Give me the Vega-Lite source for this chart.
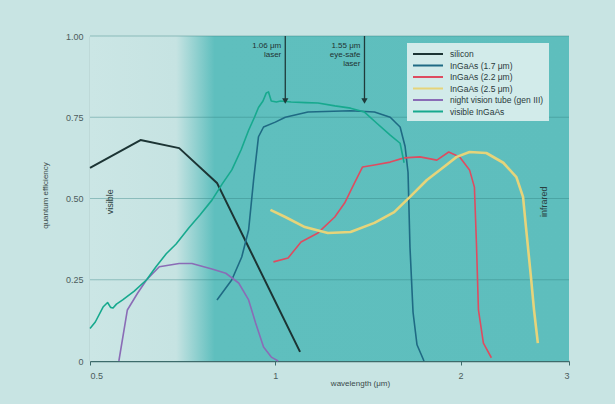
{
  "$schema": "https://vega.github.io/schema/vega-lite/v6.json",
  "width": 479,
  "height": 325,
  "autosize": {"type": "none"},
  "padding": {"left": 90, "top": 36, "right": 46, "bottom": 43},
  "background": "#c8e4e3",
  "config": {
    "view": {"stroke": null},
    "font": "Liberation Sans",
    "text": {"font": "Liberation Sans"}
  },
  "datasets": {
    "curves": [
      {"series": "silicon", "wl": 0.5, "qe": 0.594},
      {"series": "silicon", "wl": 0.604, "qe": 0.68},
      {"series": "silicon", "wl": 0.698, "qe": 0.655},
      {"series": "silicon", "wl": 0.804, "qe": 0.548},
      {"series": "silicon", "wl": 1.097, "qe": 0.028},

      {"series": "InGaAs (1.7 μm)", "wl": 0.804, "qe": 0.188},
      {"series": "InGaAs (1.7 μm)", "wl": 0.85, "qe": 0.25},
      {"series": "InGaAs (1.7 μm)", "wl": 0.882, "qe": 0.32},
      {"series": "InGaAs (1.7 μm)", "wl": 0.905, "qe": 0.403},
      {"series": "InGaAs (1.7 μm)", "wl": 0.922, "qe": 0.557},
      {"series": "InGaAs (1.7 μm)", "wl": 0.939, "qe": 0.69},
      {"series": "InGaAs (1.7 μm)", "wl": 0.957, "qe": 0.72},
      {"series": "InGaAs (1.7 μm)", "wl": 1.0, "qe": 0.735},
      {"series": "InGaAs (1.7 μm)", "wl": 1.038, "qe": 0.75},
      {"series": "InGaAs (1.7 μm)", "wl": 1.13, "qe": 0.766},
      {"series": "InGaAs (1.7 μm)", "wl": 1.325, "qe": 0.77},
      {"series": "InGaAs (1.7 μm)", "wl": 1.449, "qe": 0.766},
      {"series": "InGaAs (1.7 μm)", "wl": 1.537, "qe": 0.75},
      {"series": "InGaAs (1.7 μm)", "wl": 1.595, "qe": 0.72},
      {"series": "InGaAs (1.7 μm)", "wl": 1.625, "qe": 0.66},
      {"series": "InGaAs (1.7 μm)", "wl": 1.643, "qe": 0.58},
      {"series": "InGaAs (1.7 μm)", "wl": 1.655, "qe": 0.35},
      {"series": "InGaAs (1.7 μm)", "wl": 1.674, "qe": 0.15},
      {"series": "InGaAs (1.7 μm)", "wl": 1.699, "qe": 0.05},
      {"series": "InGaAs (1.7 μm)", "wl": 1.744, "qe": 0.0},

      {"series": "InGaAs (2.2 μm)", "wl": 0.993, "qe": 0.305},
      {"series": "InGaAs (2.2 μm)", "wl": 1.049, "qe": 0.317},
      {"series": "InGaAs (2.2 μm)", "wl": 1.101, "qe": 0.366},
      {"series": "InGaAs (2.2 μm)", "wl": 1.173, "qe": 0.394},
      {"series": "InGaAs (2.2 μm)", "wl": 1.249, "qe": 0.443},
      {"series": "InGaAs (2.2 μm)", "wl": 1.296, "qe": 0.486},
      {"series": "InGaAs (2.2 μm)", "wl": 1.345, "qe": 0.548},
      {"series": "InGaAs (2.2 μm)", "wl": 1.386, "qe": 0.597},
      {"series": "InGaAs (2.2 μm)", "wl": 1.449, "qe": 0.603},
      {"series": "InGaAs (2.2 μm)", "wl": 1.537, "qe": 0.612},
      {"series": "InGaAs (2.2 μm)", "wl": 1.619, "qe": 0.625},
      {"series": "InGaAs (2.2 μm)", "wl": 1.718, "qe": 0.628},
      {"series": "InGaAs (2.2 μm)", "wl": 1.83, "qe": 0.618},
      {"series": "InGaAs (2.2 μm)", "wl": 1.913, "qe": 0.643},
      {"series": "InGaAs (2.2 μm)", "wl": 1.993, "qe": 0.628},
      {"series": "InGaAs (2.2 μm)", "wl": 2.068, "qe": 0.588},
      {"series": "InGaAs (2.2 μm)", "wl": 2.106, "qe": 0.535},
      {"series": "InGaAs (2.2 μm)", "wl": 2.122, "qe": 0.363},
      {"series": "InGaAs (2.2 μm)", "wl": 2.138, "qe": 0.157},
      {"series": "InGaAs (2.2 μm)", "wl": 2.178, "qe": 0.055},
      {"series": "InGaAs (2.2 μm)", "wl": 2.244, "qe": 0.01},

      {"series": "InGaAs (2.5 μm)", "wl": 0.982, "qe": 0.465},
      {"series": "InGaAs (2.5 μm)", "wl": 1.038, "qe": 0.443},
      {"series": "InGaAs (2.5 μm)", "wl": 1.117, "qe": 0.412},
      {"series": "InGaAs (2.5 μm)", "wl": 1.217, "qe": 0.394},
      {"series": "InGaAs (2.5 μm)", "wl": 1.325, "qe": 0.397},
      {"series": "InGaAs (2.5 μm)", "wl": 1.449, "qe": 0.425},
      {"series": "InGaAs (2.5 μm)", "wl": 1.56, "qe": 0.458},
      {"series": "InGaAs (2.5 μm)", "wl": 1.655, "qe": 0.505},
      {"series": "InGaAs (2.5 μm)", "wl": 1.763, "qe": 0.557},
      {"series": "InGaAs (2.5 μm)", "wl": 1.878, "qe": 0.597},
      {"series": "InGaAs (2.5 μm)", "wl": 1.971, "qe": 0.628},
      {"series": "InGaAs (2.5 μm)", "wl": 2.068, "qe": 0.643},
      {"series": "InGaAs (2.5 μm)", "wl": 2.202, "qe": 0.64},
      {"series": "InGaAs (2.5 μm)", "wl": 2.346, "qe": 0.61},
      {"series": "InGaAs (2.5 μm)", "wl": 2.464, "qe": 0.566},
      {"series": "InGaAs (2.5 μm)", "wl": 2.526, "qe": 0.505},
      {"series": "InGaAs (2.5 μm)", "wl": 2.554, "qe": 0.412},
      {"series": "InGaAs (2.5 μm)", "wl": 2.602, "qe": 0.258},
      {"series": "InGaAs (2.5 μm)", "wl": 2.632, "qe": 0.157},
      {"series": "InGaAs (2.5 μm)", "wl": 2.67, "qe": 0.055},

      {"series": "night vision tube (gen III)", "wl": 0.557, "qe": 0.0},
      {"series": "night vision tube (gen III)", "wl": 0.575, "qe": 0.157},
      {"series": "night vision tube (gen III)", "wl": 0.598, "qe": 0.21},
      {"series": "night vision tube (gen III)", "wl": 0.618, "qe": 0.25},
      {"series": "night vision tube (gen III)", "wl": 0.648, "qe": 0.29},
      {"series": "night vision tube (gen III)", "wl": 0.698, "qe": 0.30},
      {"series": "night vision tube (gen III)", "wl": 0.732, "qe": 0.30},
      {"series": "night vision tube (gen III)", "wl": 0.789, "qe": 0.283},
      {"series": "night vision tube (gen III)", "wl": 0.831, "qe": 0.27},
      {"series": "night vision tube (gen III)", "wl": 0.872, "qe": 0.24},
      {"series": "night vision tube (gen III)", "wl": 0.905, "qe": 0.188},
      {"series": "night vision tube (gen III)", "wl": 0.929, "qe": 0.117},
      {"series": "night vision tube (gen III)", "wl": 0.957, "qe": 0.043},
      {"series": "night vision tube (gen III)", "wl": 0.985, "qe": 0.012},
      {"series": "night vision tube (gen III)", "wl": 1.011, "qe": 0.0},

      {"series": "visible InGaAs", "wl": 0.5, "qe": 0.10},
      {"series": "visible InGaAs", "wl": 0.51, "qe": 0.12},
      {"series": "visible InGaAs", "wl": 0.525, "qe": 0.166},
      {"series": "visible InGaAs", "wl": 0.534, "qe": 0.18},
      {"series": "visible InGaAs", "wl": 0.54, "qe": 0.165},
      {"series": "visible InGaAs", "wl": 0.545, "qe": 0.163},
      {"series": "visible InGaAs", "wl": 0.552, "qe": 0.175},
      {"series": "visible InGaAs", "wl": 0.565, "qe": 0.188},
      {"series": "visible InGaAs", "wl": 0.59, "qe": 0.215},
      {"series": "visible InGaAs", "wl": 0.618, "qe": 0.25},
      {"series": "visible InGaAs", "wl": 0.64, "qe": 0.29},
      {"series": "visible InGaAs", "wl": 0.665, "qe": 0.33},
      {"series": "visible InGaAs", "wl": 0.69, "qe": 0.36},
      {"series": "visible InGaAs", "wl": 0.724, "qe": 0.41},
      {"series": "visible InGaAs", "wl": 0.755, "qe": 0.45},
      {"series": "visible InGaAs", "wl": 0.789, "qe": 0.495},
      {"series": "visible InGaAs", "wl": 0.82, "qe": 0.545},
      {"series": "visible InGaAs", "wl": 0.85, "qe": 0.588},
      {"series": "visible InGaAs", "wl": 0.88, "qe": 0.65},
      {"series": "visible InGaAs", "wl": 0.905, "qe": 0.71},
      {"series": "visible InGaAs", "wl": 0.925, "qe": 0.75},
      {"series": "visible InGaAs", "wl": 0.939, "qe": 0.78},
      {"series": "visible InGaAs", "wl": 0.955, "qe": 0.80},
      {"series": "visible InGaAs", "wl": 0.967, "qe": 0.825},
      {"series": "visible InGaAs", "wl": 0.975, "qe": 0.828},
      {"series": "visible InGaAs", "wl": 0.985, "qe": 0.80},
      {"series": "visible InGaAs", "wl": 1.004, "qe": 0.797},
      {"series": "visible InGaAs", "wl": 1.02, "qe": 0.80},
      {"series": "visible InGaAs", "wl": 1.061, "qe": 0.797},
      {"series": "visible InGaAs", "wl": 1.12, "qe": 0.795},
      {"series": "visible InGaAs", "wl": 1.173, "qe": 0.794},
      {"series": "visible InGaAs", "wl": 1.25, "qe": 0.785},
      {"series": "visible InGaAs", "wl": 1.325, "qe": 0.778},
      {"series": "visible InGaAs", "wl": 1.396, "qe": 0.766},
      {"series": "visible InGaAs", "wl": 1.465, "qe": 0.73},
      {"series": "visible InGaAs", "wl": 1.537, "qe": 0.695},
      {"series": "visible InGaAs", "wl": 1.595, "qe": 0.67},
      {"series": "visible InGaAs", "wl": 1.619, "qe": 0.61}
    ],
    "lasers": [
      {"pos": 1.038, "top": 1.0, "tip": 0.80, "label": "1.06 μm\nlaser"},
      {"pos": 1.396, "top": 1.0, "tip": 0.80, "label": "1.55 μm\neye-safe\nlaser"}
    ],
    "regions": [
      {"wl": 0.538, "qe": 0.49, "t": "visible"},
      {"wl": 2.73, "qe": 0.49, "t": "infrared"}
    ]
  },
  "layer": [
    {
      "data": {"values": [{"x": 0.5, "x2": 3, "y": 0, "y2": 1}]},
      "mark": {
        "type": "rect",
        "fill": {
          "gradient": "linear",
          "x1": 0, "x2": 1, "y1": 0, "y2": 0,
          "stops": [
            {"offset": 0, "color": "#cbe6e5"},
            {"offset": 0.18, "color": "#c6e3e2"},
            {"offset": 0.26, "color": "#5fbfbe"},
            {"offset": 1, "color": "#5ebebd"}
          ]
        }
      },
      "encoding": {
        "x": {
          "field": "x", "type": "quantitative",
          "scale": {"type": "log", "domain": [0.5, 3], "nice": false},
          "axis": {
            "values": [0.5, 1, 2, 3],
            "labelExpr": "datum.value == 0.5 ? '0.5' : format(datum.value, 'd')",
            "grid": false,
            "domainColor": "#3d6b6b",
            "domainWidth": 1.5,
            "tickColor": "#3d6b6b",
            "tickSize": 4,
            "labelPadding": 6,
            "labelFontSize": 9,
            "labelColor": "#4c5c5c",
            "title": "wavelength (μm)",
            "titleFontSize": 8,
            "titleFontWeight": "normal",
            "titleColor": "#3a4a4a",
            "titleX": 270,
            "titleY": 22,
            "titleBaseline": "middle",
            "titleAlign": "center"
          }
        },
        "x2": {"field": "x2"},
        "y": {
          "field": "y", "type": "quantitative",
          "scale": {"domain": [0, 1], "nice": false},
          "axis": {
            "values": [0, 0.25, 0.5, 0.75, 1],
            "labelExpr": "datum.value == 0 ? '0' : format(datum.value, '.2f')",
            "grid": false,
            "ticks": false,
            "domainColor": "#6a8282",
            "domainWidth": 1.2,
            "labelPadding": 7,
            "labelFontSize": 9,
            "labelColor": "#4c5c5c",
            "title": "quantum efficiency",
            "titleFontSize": 8,
            "titleFontWeight": "normal",
            "titleColor": "#3a4a4a",
            "titleX": -45,
            "titleY": 159,
            "titleAngle": -90,
            "titleBaseline": "middle",
            "titleAlign": "center"
          }
        },
        "y2": {"field": "y2"}
      }
    },
    {
      "data": {"values": [{"g": 0.25}, {"g": 0.5}, {"g": 0.75}, {"g": 1}]},
      "mark": {"type": "rule", "stroke": "#2f7f7f", "strokeOpacity": 0.4, "strokeWidth": 1},
      "encoding": {"y": {"field": "g", "type": "quantitative"}}
    },
    {
      "data": {"name": "curves"},
      "mark": {"type": "line", "interpolate": "linear", "strokeJoin": "round"},
      "encoding": {
        "x": {"field": "wl", "type": "quantitative"},
        "y": {"field": "qe", "type": "quantitative"},
        "color": {
          "field": "series", "type": "nominal",
          "scale": {
            "domain": ["silicon", "InGaAs (1.7 μm)", "InGaAs (2.2 μm)", "InGaAs (2.5 μm)", "night vision tube (gen III)", "visible InGaAs"],
            "range": ["#1c3434", "#1f6a84", "#de4c60", "#e6d47a", "#8a6cb6", "#17a98e"]
          },
          "legend": {
            "orient": "none",
            "legendX": 317,
            "legendY": 7,
            "title": null,
            "fillColor": "#d2ebea",
            "padding": 5,
            "symbolType": "M-1,0H5",
            "symbolSize": 100,
            "symbolStrokeWidth": 2,
            "labelFontSize": 8.5,
            "labelColor": "#2a3a3a",
            "labelLimit": 200,
            "rowPadding": 0.5,
            "labelOffset": 26
          }
        },
        "strokeWidth": {
          "condition": [
            {"test": "datum.series === 'InGaAs (2.5 μm)'", "value": 2.6},
            {"test": "datum.series === 'silicon'", "value": 2}
          ],
          "value": 1.6
        }
      }
    },
    {
      "data": {"name": "lasers"},
      "mark": {"type": "rule", "stroke": "#1f3a3a", "strokeWidth": 1.3},
      "encoding": {
        "x": {"field": "pos", "type": "quantitative"},
        "y": {"field": "top", "type": "quantitative"},
        "y2": {"field": "tip"}
      }
    },
    {
      "data": {"name": "lasers"},
      "mark": {"type": "point", "shape": "triangle-down", "filled": true, "fill": "#1f3a3a", "size": 40, "opacity": 1},
      "encoding": {
        "x": {"field": "pos", "type": "quantitative"},
        "y": {"field": "tip", "type": "quantitative"}
      }
    },
    {
      "data": {"name": "lasers"},
      "mark": {"type": "text", "align": "right", "baseline": "top", "dx": -4, "dy": 6, "fontSize": 8, "lineHeight": 9, "lineBreak": "\n", "color": "#1f3333"},
      "encoding": {
        "x": {"field": "pos", "type": "quantitative"},
        "y": {"field": "top", "type": "quantitative"},
        "text": {"field": "label"}
      }
    },
    {
      "data": {"name": "regions"},
      "mark": {"type": "text", "angle": 270, "align": "center", "baseline": "middle", "fontSize": 9, "color": "#2a4040"},
      "encoding": {
        "x": {"field": "wl", "type": "quantitative"},
        "y": {"field": "qe", "type": "quantitative"},
        "text": {"field": "t"}
      }
    }
  ]
}
